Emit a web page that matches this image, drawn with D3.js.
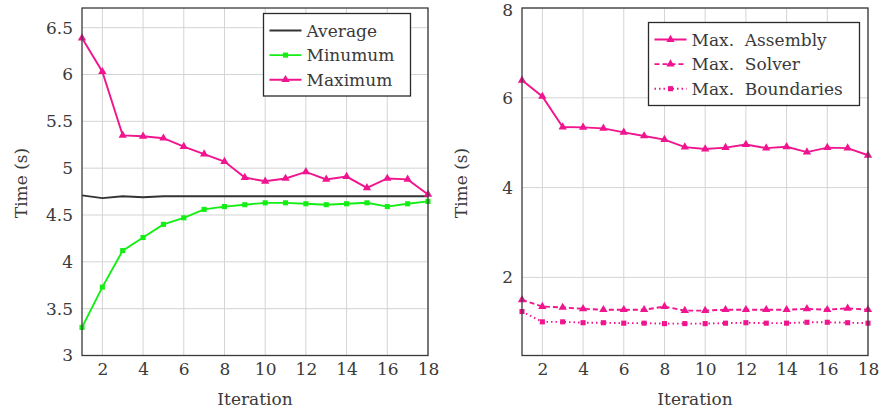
<!DOCTYPE html>
<html>
<head>
<meta charset="utf-8">
<script src="https://cdn.jsdelivr.net/npm/d3@7"></script>
</head>
<body style="margin:0; background:#fff">
<div id="chart"></div>
<script>
// Data
const iterations = d3.range(1, 19);
const average = [4.71, 4.68, 4.70, 4.69, 4.70, 4.70, 4.70, 4.70, 4.70, 4.70, 4.70, 4.70, 4.70, 4.70, 4.70, 4.70, 4.70, 4.70];
const minimum = [3.30, 3.73, 4.12, 4.26, 4.40, 4.47, 4.56, 4.59, 4.61, 4.63, 4.63, 4.62, 4.61, 4.62, 4.63, 4.59, 4.62, 4.645];
const maximum = [6.39, 6.03, 5.35, 5.34, 5.32, 5.23, 5.15, 5.07, 4.90, 4.86, 4.89, 4.96, 4.88, 4.91, 4.79, 4.89, 4.88, 4.72];
const maxAssembly = maximum;
const maxSolver = [1.50, 1.35, 1.33, 1.30, 1.28, 1.28, 1.28, 1.35, 1.26, 1.26, 1.28, 1.28, 1.28, 1.28, 1.30, 1.28, 1.31, 1.28];
const maxBoundaries = [1.24, 1.01, 1.01, 0.99, 0.99, 0.98, 0.98, 0.97, 0.97, 0.97, 0.98, 0.99, 0.98, 0.98, 1.00, 1.00, 0.99, 0.98];
const xTicks = [2, 4, 6, 8, 10, 12, 14, 16, 18];
const leftYTicks = [3, 3.5, 4, 4.5, 5, 5.5, 6, 6.5];
const rightYTicks = [2, 4, 6, 8];

const pink = '#f0158f';
const green = '#14ee14';
const fontSize = 17;
const fontFamily = '"DejaVu Serif", serif';
const textColor = '#3a3a3a';

const width = 881;
const height = 414;

const svg = d3.select('#chart')
  .append('svg')
  .attr('width', width)
  .attr('height', height);

function styleText(sel) {
  return sel
    .style('font-family', fontFamily)
    .style('font-size', fontSize + 'px')
    .style('fill', textColor)
    .style('white-space', 'pre');
}

function marker(type) {
  return d3.symbol()
    .type(type === 'square' ? d3.symbolSquare : d3.symbolTriangle)
    .size(type === 'square' ? 26 : 30);
}

function drawPanel(opts) {
  const g = svg.append('g');
  const x = d3.scaleLinear().domain([1, 18]).range([opts.x0, opts.x1]);
  const y = d3.scaleLinear().domain(opts.yDomain).range([opts.y1, opts.y0]);

  // grid
  g.append('g').selectAll('line')
    .data(xTicks).enter().append('line')
    .attr('x1', d => x(d)).attr('x2', d => x(d))
    .attr('y1', opts.y0).attr('y2', opts.y1)
    .attr('stroke', '#d4d4d4').attr('stroke-width', 1);
  g.append('g').selectAll('line')
    .data(opts.yTicks).enter().append('line')
    .attr('x1', opts.x0).attr('x2', opts.x1)
    .attr('y1', d => y(d)).attr('y2', d => y(d))
    .attr('stroke', '#d4d4d4').attr('stroke-width', 1);

  // axes
  const xAxis = g.append('g')
    .attr('transform', `translate(0, ${opts.y1})`)
    .call(d3.axisBottom(x).tickValues(xTicks).tickSize(0).tickPadding(7));
  xAxis.select('.domain').remove();
  styleText(xAxis.selectAll('text'));

  const yAxis = g.append('g')
    .attr('transform', `translate(${opts.x0}, 0)`)
    .call(d3.axisLeft(y).tickValues(opts.yTicks).tickSize(0).tickPadding(9).tickFormat(d3.format('')));
  yAxis.select('.domain').remove();
  styleText(yAxis.selectAll('text'))
    .attr('dy', d => (y(d) - opts.y0 < 4 ? '0.42em' : '0.32em'));

  // series
  opts.series.forEach(s => {
    const line = d3.line().x((d, i) => x(iterations[i])).y(d => y(d));
    g.append('path')
      .datum(s.values)
      .attr('fill', 'none')
      .attr('stroke', s.color)
      .attr('stroke-width', 1.9)
      .attr('stroke-dasharray', s.dash || null)
      .attr('d', line);
    if (s.marker) {
      g.append('g').selectAll('path')
        .data(s.values).enter().append('path')
        .attr('transform', (d, i) => `translate(${x(iterations[i])}, ${y(d)})`)
        .attr('d', marker(s.marker))
        .attr('fill', s.color);
    }
  });

  // frame
  g.append('rect')
    .attr('x', opts.x0).attr('y', opts.y0)
    .attr('width', opts.x1 - opts.x0).attr('height', opts.y1 - opts.y0)
    .attr('fill', 'none').attr('stroke', '#3a3a3a').attr('stroke-width', 1.3);

  // axis titles
  styleText(g.append('text'))
    .attr('x', (opts.x0 + opts.x1) / 2).attr('y', 405)
    .attr('text-anchor', 'middle')
    .text('Iteration');
  styleText(g.append('text'))
    .attr('transform', `translate(${opts.labelX}, 183) rotate(-90)`)
    .attr('text-anchor', 'middle')
    .text('Time (s)');

  // legend
  const lg = g.append('g');
  lg.append('rect')
    .attr('x', opts.legend.x).attr('y', opts.legend.y)
    .attr('width', opts.legend.w).attr('height', opts.legend.h)
    .attr('fill', '#fff').attr('stroke', '#2a2a2a').attr('stroke-width', 1.3);
  opts.series.forEach((s, i) => {
    const cy = opts.legend.y + 17 + i * 24.6;
    const lx0 = opts.legend.x + 6, lx1 = opts.legend.x + 38;
    lg.append('line')
      .attr('x1', lx0).attr('x2', lx1).attr('y1', cy).attr('y2', cy)
      .attr('stroke', s.color).attr('stroke-width', 1.9)
      .attr('stroke-dasharray', s.dash || null);
    if (s.marker) {
      lg.append('path')
        .attr('transform', `translate(${(lx0 + lx1) / 2}, ${cy})`)
        .attr('d', marker(s.marker))
        .attr('fill', s.color);
    }
    styleText(lg.append('text'))
      .attr('x', lx1 + 5).attr('y', cy + 6)
      .text(s.name);
  });
}

drawPanel({
  x0: 82, x1: 428, y0: 8, y1: 355.5,
  yDomain: [3, 6.71],
  yTicks: leftYTicks,
  labelX: 27,
  legend: { x: 263.5, y: 13.5, w: 147, h: 82.5 },
  series: [
    { name: 'Average', values: average, color: '#333' },
    { name: 'Minumum', values: minimum, color: green, marker: 'square' },
    { name: 'Maximum', values: maximum, color: pink, marker: 'triangle' }
  ]
});

drawPanel({
  x0: 522, x1: 868, y0: 8, y1: 355.5,
  yDomain: [0.26, 8],
  yTicks: rightYTicks,
  labelX: 467,
  legend: { x: 648.5, y: 22.5, w: 211, h: 83 },
  series: [
    { name: 'Max.  Assembly', values: maxAssembly, color: pink, marker: 'triangle' },
    { name: 'Max.  Solver', values: maxSolver, color: pink, marker: 'triangle', dash: '5,3' },
    { name: 'Max.  Boundaries', values: maxBoundaries, color: pink, marker: 'square', dash: '1.5,3' }
  ]
});
</script>
</body>
</html>
